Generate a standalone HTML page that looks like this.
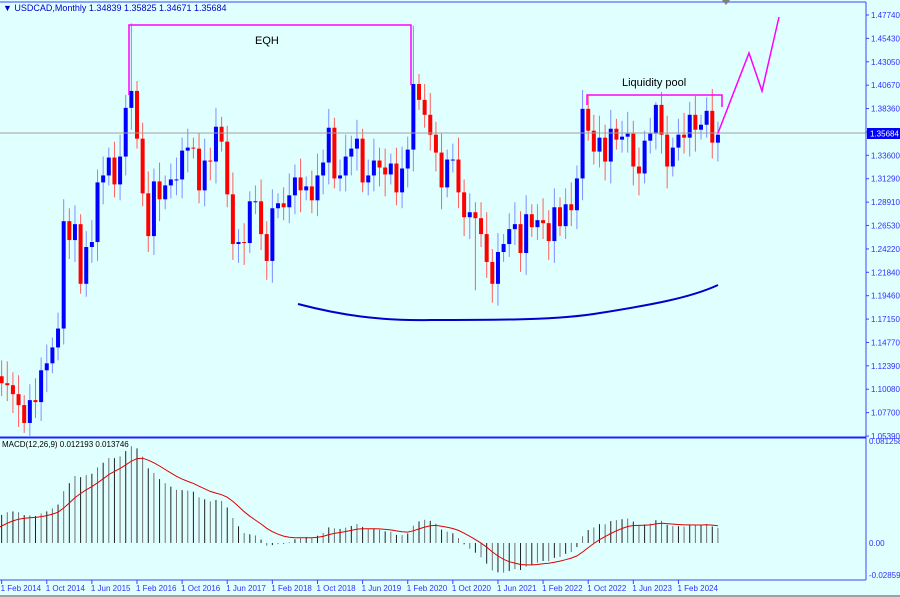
<!DOCTYPE html>
<html><head><meta charset="utf-8"><style>
body{margin:0;background:#e0ffff;}
svg{display:block;font-family:"Liberation Sans",sans-serif;}
</style></head><body>
<svg id="s" width="900" height="597" xmlns="http://www.w3.org/2000/svg"></svg>
<script>
var S=document.getElementById('s');var h='';
h+='<rect width="900" height="597" fill="#e0ffff"/>';
function Y(p){return 15+(1.4774-p)/0.4235*421;}
function X(i){return -4+i*5.64;}
var pre=[1.0,1.0,1.0,1.0,1.0,1.0,1.0,1.0,1.0,0.998,1.0,0.995,0.998,1.025,1.016,1.008,1.036,1.051,1.027,1.053,1.030,1.043,1.062,1.062];
var c=[1.114,1.107,1.105,1.096,1.085,1.067,1.090,1.088,1.120,1.127,1.143,1.162,
1.270,1.251,1.267,1.207,1.244,1.249,1.309,1.316,1.334,1.307,1.335,1.384,
1.401,1.353,1.298,1.255,1.310,1.292,1.306,1.312,1.312,1.341,1.344,1.343,
1.301,1.331,1.330,1.365,1.350,1.297,1.247,1.249,1.248,1.290,1.290,1.257,
1.230,1.283,1.288,1.284,1.296,1.314,1.301,1.305,1.291,1.316,1.329,1.364,
1.313,1.316,1.335,1.343,1.353,1.309,1.316,1.331,1.324,1.317,1.328,1.299,
1.323,1.342,1.408,1.392,1.377,1.357,1.339,1.304,1.332,1.332,1.299,1.274,
1.279,1.273,1.257,1.229,1.207,1.239,1.247,1.262,1.267,1.238,1.277,1.264,
1.271,1.268,1.250,1.284,1.265,1.287,1.281,1.313,1.383,1.361,1.340,1.354,
1.330,1.363,1.352,1.355,1.358,1.325,1.318,1.351,1.358,1.387,1.357,1.325,
1.344,1.357,1.354,1.377,1.362,1.367,1.381,1.349,1.357];
var hiX={24:1.469,74:1.4667,105:1.3977,117:1.3898,126:1.3946,85:1.2005};
var prev=1.075;
for(var i=0;i<c.length;i++){
 var x=X(i), o=prev, cl=c[i];
 var hi=Math.max(o,cl)+0.010+((i*7)%5)*0.003, lo=Math.min(o,cl)-0.010-((i*11)%5)*0.003;
 if(hiX[i]){ if(i==85) lo=hiX[i]; else hi=hiX[i]; }
 var col=cl>=o?'#0000ff':'#ff0000', wc=cl>=o?'#7f8fff':'#ff6060';
 h+='<line x1="'+x+'" x2="'+x+'" y1="'+Y(hi)+'" y2="'+Y(lo)+'" stroke="'+wc+'" stroke-width="1"/>';
 var t=Y(Math.max(o,cl)),b=Y(Math.min(o,cl));if(b-t<1)b=t+1;
 h+='<rect x="'+(x-2)+'" y="'+t+'" width="4" height="'+(b-t)+'" fill="'+col+'"/>';
 prev=cl;
}
h+='<line x1="0" x2="866" y1="133" y2="133" stroke="#a0a0a0"/>';
h+='<path d="M298,304 C340,315 380,321 430,320 C500,320 560,320 600,313 C650,305 690,298 718,285" fill="none" stroke="#0000cc" stroke-width="2"/>';
h+='<path d="M129,95 V25 H411 V85" fill="none" stroke="#ff00ff" stroke-width="1.5"/>';
h+='<path d="M587,105 V95 H722 V107" fill="none" stroke="#ff00ff" stroke-width="1.5"/>';
h+='<path d="M718,133 L749,53 L762,91 L779,17" fill="none" stroke="#ff00ff" stroke-width="1.5"/>';
h+='<text x="255" y="44" font-size="11" fill="#000">EQH</text>';
h+='<text x="622" y="86" font-size="11" fill="#000">Liquidity pool</text>';
h+='<text x="3" y="11" font-size="9" fill="#0000cc">▼ USDCAD,Monthly  1.34839 1.35825 1.34671 1.35684</text>';
var all=pre.concat(c);function ema(a,n){var k=2/(n+1),r=[],v=a[0];for(var j=0;j<a.length;j++){v=j?a[j]*k+v*(1-k):a[0];r.push(v);}return r;}
var e12=ema(all,12),e26=ema(all,26),m=[];for(var j=0;j<all.length;j++)m.push(e12[j]-e26[j]);
var sig=ema(m,9);
function MY(v){return 543-v*1255;}
var sp='';
for(var i=0;i<c.length;i++){var j=i+pre.length,x=X(i);
 h+='<line x1="'+x+'" x2="'+x+'" y1="543" y2="'+MY(m[j])+'" stroke="'+(i%2?'#202020':'#707070')+'" stroke-width="1"/>';
 sp+=(i?'L':'M')+x.toFixed(1)+','+MY(sig[j]).toFixed(1);}
h+='<path d="'+sp+'" fill="none" stroke="#e00000" stroke-width="1"/>';
h+='<text x="2" y="447" font-size="8" fill="#000">MACD(12,26,9) 0.012193 0.013746</text>';
h+='<line x1="0" x2="866" y1="2" y2="2" stroke="#4040ff"/>';
h+='<line x1="866" x2="866" y1="2" y2="580" stroke="#4040ff"/>';
h+='<line x1="0" x2="866" y1="437.5" y2="437.5" stroke="#2020ff" stroke-width="2"/>';
h+='<line x1="0" x2="866" y1="580" y2="580" stroke="#4040ff"/>';
h+='<path d="M722,0 L730,0 L726,5Z" fill="#808080"/>';
var L=['1.47740','1.45430','1.43050','1.40670','1.38360','1.35600','1.33600','1.31290','1.28910','1.26530','1.24220','1.21840','1.19460','1.17150','1.14770','1.12390','1.10080','1.07700','1.05390'];
for(var k=0;k<L.length;k++){var y=15+k*23.39;h+='<line x1="866" x2="869" y1="'+y+'" y2="'+y+'" stroke="#4040ff"/><text x="871" y="'+(y+3)+'" font-size="8" fill="#3030ff">'+L[k]+'</text>';}
h+='<rect x="867" y="128" width="33" height="11" fill="#0000ff"/><text x="870" y="136.5" font-size="8" fill="#fff">1.35684</text>';
[['0.081258',444],['0.00',546],['-0.02859',578]].forEach(function(a){h+='<text x="869" y="'+a[1]+'" font-size="8" fill="#3030ff">'+a[0]+'</text>';});
var D=['1 Feb 2014','1 Oct 2014','1 Jun 2015','1 Feb 2016','1 Oct 2016','1 Jun 2017','1 Feb 2018','1 Oct 2018','1 Jun 2019','1 Feb 2020','1 Oct 2020','1 Jun 2021','1 Feb 2022','1 Oct 2022','1 Jun 2023','1 Feb 2024'];
for(var k=0;k<D.length;k++){var x=X(1+8*k);h+='<line x1="'+x+'" x2="'+x+'" y1="580" y2="584" stroke="#4040ff"/><text x="'+(x-1)+'" y="591" font-size="8" fill="#3030ff">'+D[k]+'</text>';}
h+='<rect x="0" y="595" width="900" height="2" fill="#a0a0a0"/>';
S.innerHTML=h;
</script>
</body></html>
